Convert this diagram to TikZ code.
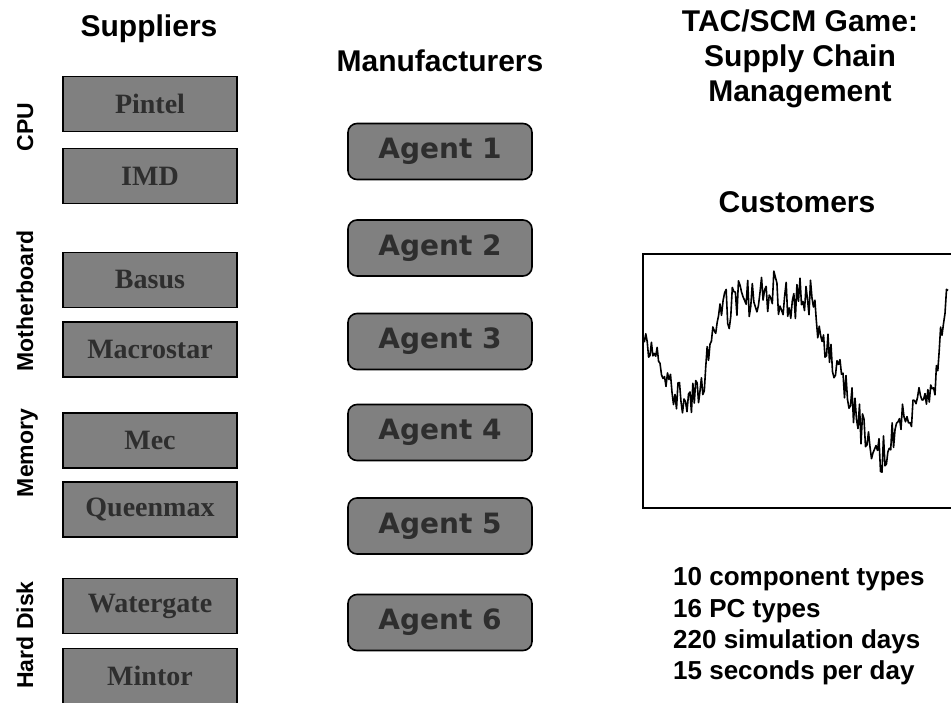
\documentclass[tikz,border=0pt]{standalone}
\usepackage{fontspec}
\setmainfont{Liberation Sans}
\newfontfamily\serifbox{Liberation Serif}
\newfontfamily\agentfont{DejaVu Sans}
\begin{document}
\begin{tikzpicture}[x=1pt,y=-1pt,
  supbox/.style={draw=black,line width=1.6pt,fill=black!50,minimum width=174pt,minimum height=55pt,inner sep=0pt,
    font=\serifbox\bfseries\fontsize{28}{30}\selectfont,text=black!82},
  agbox/.style={draw=black,line width=1.6pt,fill=black!50,rounded corners=9pt,minimum width=184pt,minimum height=56pt,inner sep=0pt,
    font=\agentfont\bfseries\fontsize{28}{30}\selectfont,text=black!82},
  head/.style={anchor=base,font=\bfseries\fontsize{30}{36}\selectfont,inner sep=0pt},
  cat/.style={anchor=base,rotate=90,font=\bfseries\fontsize{23}{28}\selectfont,inner sep=0pt},
  fact/.style={anchor=base west,font=\bfseries\fontsize{26}{30}\selectfont,inner sep=0pt}]
\useasboundingbox (0,0) rectangle (951,703);

% headings
\node[head] (hsup) at (149,37) {Suppliers};
\node[head] (hman) at (440,72) {Manufacturers};
\node[head] (ht1) at (800,32) {TAC/SCM Game:};
\node[head] (ht2) at (800,67) {Supply Chain};
\node[head] (ht3) at (800,102) {Management};
\node[head] (hcus) at (797,213) {Customers};

% category labels
\node[cat] (ccpu) at (33,127) {CPU};
\node[cat] (cmb) at (33,301) {Motherboard};
\node[cat] (cmem) at (33,453) {Memory};
\node[cat] (chd) at (33,635) {Hard Disk};

% suppliers
\node[supbox] (s1) at (150,104) {Pintel};
\node[supbox] (s2) at (150,176) {IMD};
\node[supbox] (s3) at (150,280) {Basus};
\node[supbox] (s4) at (150,349.5) {Macrostar};
\node[supbox] (s5) at (150,440.5) {Mec};
\node[supbox] (s6) at (150,509.5) {Queenmax};
\node[supbox] (s7) at (150,606) {Watergate};
\node[supbox] (s8) at (150,676) {Mintor};

% agents
\node[agbox] (a1) at (440,151.5) {Agent 1};
\node[agbox] (a2) at (440,248) {Agent 2};
\node[agbox] (a3) at (440,341.5) {Agent 3};
\node[agbox] (a4) at (440,432.5) {Agent 4};
\node[agbox] (a5) at (440,526) {Agent 5};
\node[agbox] (a6) at (440,622.5) {Agent 6};

% customer demand chart
\draw[line width=1.6pt] (951,254) -- (643,254) -- (643,508) -- (951,508);
\pgfmathsetseed{7}
\draw[line width=1.6pt,line join=round] (643,337)
  \foreach \xa/\ya/\xb/\yb/\n/\am in {
   643/337/650/345/5/14, 650/345/660/360/7/12, 660/360/675/395/10/14,
   675/395/690/400/10/16, 690/400/700/390/7/14, 700/390/710/350/7/18,
   710/350/720/315/7/18, 720/315/740/300/13/22, 740/300/760/290/13/24,
   760/290/780/295/13/24, 780/295/800/300/13/22, 800/300/812/300/8/20,
   812/300/825/345/9/18, 825/345/840/370/10/18, 840/370/855/410/10/18,
   855/410/870/450/10/18, 870/450/885/455/10/20, 885/455/895/430/7/16,
   895/430/910/410/10/16, 910/410/925/395/10/18, 925/395/935/380/7/16,
   935/380/942/330/5/14, 942/330/948/285/4/10} {
    \foreach \k in {1,...,\n} {
      -- ({\xa+(\xb-\xa)*\k/\n},{\ya+(\yb-\ya)*\k/\n+\am*rand})
    }
  };

% facts
\node[fact] (f1) at (673,585) {10 component types};
\node[fact] (f2) at (673,617) {16 PC types};
\node[fact] (f3) at (673,648) {220 simulation days};
\node[fact] (f4) at (673,679) {15 seconds per day};
\end{tikzpicture}
\end{document}
